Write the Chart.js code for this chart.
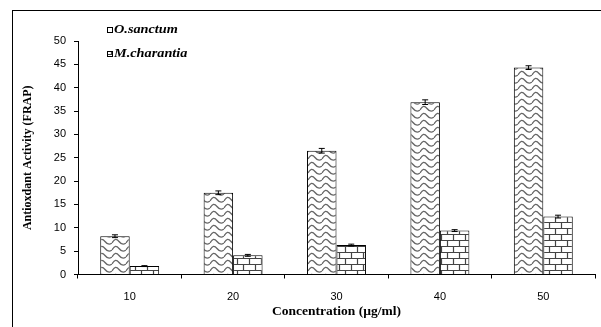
<!DOCTYPE html>
<html>
<head>
<meta charset="utf-8">
<script src="https://cdn.jsdelivr.net/npm/chart.js@4/dist/chart.umd.min.js"></script>
<style>
  html, body { margin: 0; padding: 0; background: #fff; overflow: hidden; }
  canvas { display: block; }
</style>
</head>
<body>
<canvas id="chart" width="601" height="327"></canvas>
<script>
// data
var concentraciones = ['10', '20', '30', '40', '50'];
var sanctum = [8.2, 17.5, 26.5, 36.9, 44.3];
var sanctumErr = [0.3, 0.4, 0.5, 0.5, 0.4];
var charantia = [1.8, 4.1, 6.3, 9.4, 12.4];
var charantiaErr = [0.1, 0.2, 0.2, 0.2, 0.3];

// patron ondas
function wavePattern(){
    var c = document.createElement('canvas');
    c.width = 14; c.height = 7;
    var ctx = c.getContext('2d');
    ctx.fillStyle = '#fff';
    ctx.fillRect(0, 0, 14, 7);
    ctx.strokeStyle = '#666';
    ctx.lineWidth = 1.3;
    ctx.beginPath();
    ctx.moveTo(0, 5);
    ctx.bezierCurveTo(2.5, 0.5, 4.5, 0.5, 7, 3.5);
    ctx.bezierCurveTo(9.5, 6.8, 11.5, 6.8, 14, 5);
    ctx.stroke();
    return ctx.createPattern(c, 'repeat');
}

// patron ladrillos
function brickPattern(){
    var c = document.createElement('canvas');
    c.width = 12; c.height = 12;
    var ctx = c.getContext('2d');
    ctx.fillStyle = '#fff';
    ctx.fillRect(0, 0, 12, 12);
    ctx.strokeStyle = '#444';
    ctx.lineWidth = 1.2;
    ctx.beginPath();
    ctx.moveTo(0, 0.5); ctx.lineTo(12, 0.5);
    ctx.moveTo(0, 6.5); ctx.lineTo(12, 6.5);
    ctx.moveTo(3.5, 0); ctx.lineTo(3.5, 6.5);
    ctx.moveTo(9.5, 6.5); ctx.lineTo(9.5, 12);
    ctx.stroke();
    return ctx.createPattern(c, 'repeat');
}

var errores = [sanctumErr, charantiaErr];

var errorBars = {
    id: 'errorBars',
    afterDatasetsDraw: function(chart){
        var ctx = chart.ctx;
        var y = chart.scales.y;
        ctx.save();
        ctx.strokeStyle = '#000';
        ctx.lineWidth = 1;
        chart.data.datasets.forEach(function(ds, i){
            var meta = chart.getDatasetMeta(i);
            meta.data.forEach(function(bar, j){
                var v = ds.data[j], e = errores[i][j];
                var top = y.getPixelForValue(v + e);
                var bot = y.getPixelForValue(v - e);
                ctx.beginPath();
                ctx.moveTo(bar.x, top); ctx.lineTo(bar.x, bot);
                ctx.moveTo(bar.x - 3, top); ctx.lineTo(bar.x + 3, top);
                ctx.moveTo(bar.x - 3, bot); ctx.lineTo(bar.x + 3, bot);
                ctx.stroke();
            });
        });
        ctx.restore();
    }
};

var marco = {
    id: 'marco',
    beforeDraw: function(chart){
        var ctx = chart.ctx;
        ctx.save();
        ctx.fillStyle = '#fff';
        ctx.fillRect(0, 0, chart.width, chart.height);
        ctx.strokeStyle = '#000';
        ctx.lineWidth = 1;
        ctx.strokeRect(12.5, 10.5, 700, 400);
        ctx.restore();
    }
};

// leyenda dentro del marco, texto algo ensanchado como en el original
var leyenda = {
    id: 'leyenda',
    afterDraw: function(chart){
        var ctx = chart.ctx;
        var a = chart.chartArea;
        ctx.save();
        ctx.font = 'italic bold 12px "Liberation Serif"';
        ctx.textBaseline = 'middle';
        chart.data.datasets.forEach(function(ds, i){
            var x = a.left + 29, yy = a.top - 11 + i * 24;
            ctx.fillStyle = ds.backgroundColor;
            ctx.fillRect(x, yy - 3, 6, 6);
            ctx.strokeStyle = '#000';
            ctx.lineWidth = 1;
            ctx.strokeRect(x + 0.5, yy - 2.5, 5, 5);
            ctx.save();
            ctx.translate(x + 7, yy);
            ctx.scale(1.19, 1);
            ctx.fillStyle = '#000';
            ctx.fillText(ds.label, 0, 0);
            ctx.restore();
        });
        ctx.restore();
    }
};

var chart = new Chart(document.getElementById('chart').getContext('2d'), {
    type: 'bar',
    data: {
        labels: concentraciones,
        datasets: [
            { label: 'O.sanctum', data: sanctum, backgroundColor: wavePattern(), borderColor: '#000', borderWidth: 1 },
            { label: 'M.charantia', data: charantia, backgroundColor: brickPattern(), borderColor: '#000', borderWidth: 1 }
        ]
    },
    options: {
        responsive: false,
        animation: false,
        devicePixelRatio: 1,
        layout: { padding: { top: 41, right: 6, left: 0, bottom: 0 } },
        categoryPercentage: 0.57,
        barPercentage: 1,
        plugins: { legend: { display: false }, tooltip: { enabled: false } },
        scales: {
            x: {
                grid: { display: true, drawOnChartArea: false, offset: true, color: '#000', tickLength: 4 },
                border: { color: '#000', width: 1 },
                ticks: { color: '#000', font: { family: 'Liberation Sans', size: 11 }, padding: 12 },
                title: { display: true, text: 'Concentration (µg/ml)', color: '#000',
                    font: { family: 'Liberation Serif', size: 13.5, weight: 'bold' }, padding: { top: 7, bottom: 7 } },
                afterFit: function(s){ s.height = 52.5; }
            },
            y: {
                min: 0, max: 50,
                ticks: { stepSize: 5, autoSkip: false, color: '#000', font: { family: 'Liberation Sans', size: 11 }, padding: 8 },
                grid: { display: true, drawOnChartArea: false, color: '#000', tickLength: 4 },
                border: { color: '#000', width: 1 },
                title: { display: true, text: 'Antioxdant Activity (FRAP)', color: '#000',
                    font: { family: 'Liberation Serif', size: 12, weight: 'bold' }, padding: { top: 21, bottom: 0 } },
                afterFit: function(s){ s.width = 78; }
            }
        }
    },
    plugins: [marco, errorBars, leyenda]
});
</script>
</body>
</html>
